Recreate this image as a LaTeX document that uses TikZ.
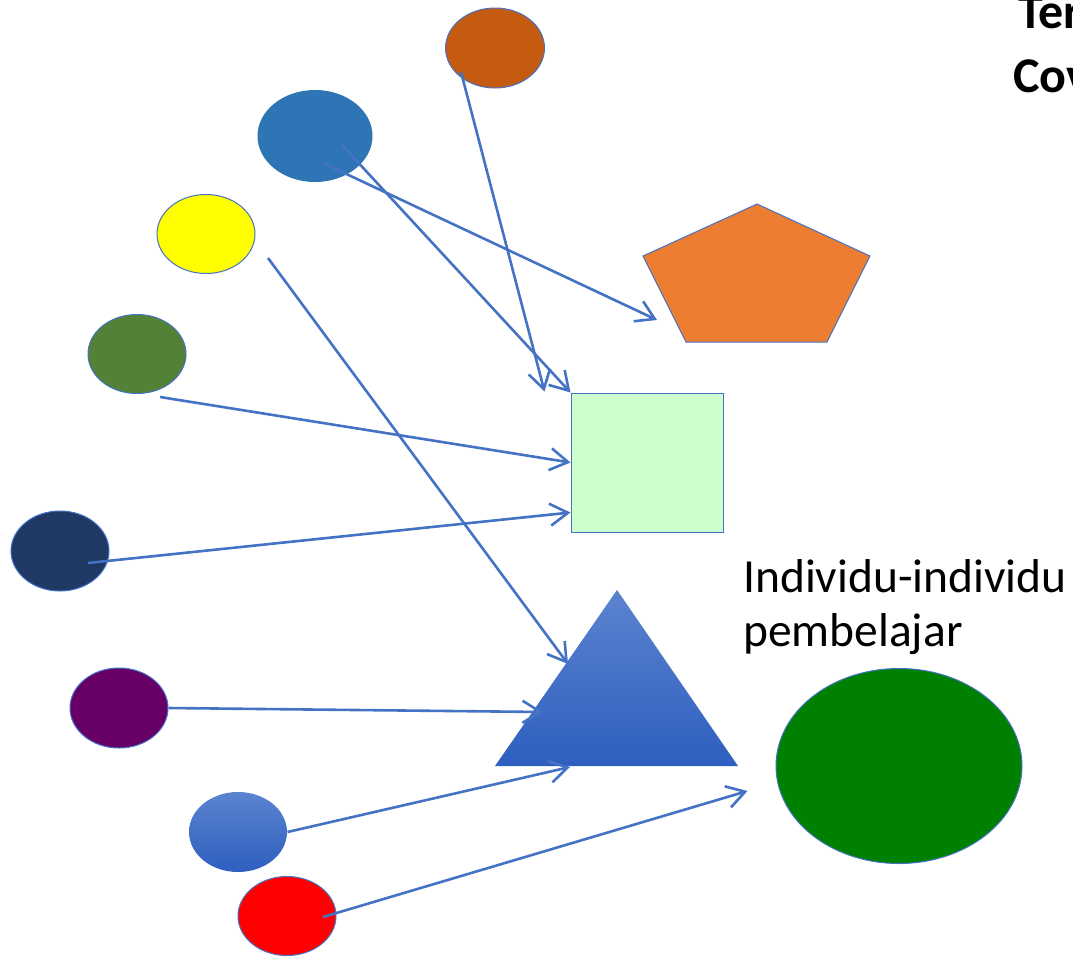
\documentclass[tikz,border=0pt]{standalone}
\usepackage{fontspec}
\setmainfont{Carlito}
\usetikzlibrary{shapes.geometric,arrows.meta,calc}
\definecolor{linec}{HTML}{4472C4}
\definecolor{cbrown}{HTML}{C55A11}
\definecolor{cblue}{HTML}{2E75B6}
\definecolor{cyellow}{HTML}{FFFF00}
\definecolor{cgreen}{HTML}{538135}
\definecolor{cnavy}{HTML}{203864}
\definecolor{cpurple}{HTML}{660066}
\definecolor{cred}{HTML}{FF0000}
\definecolor{cbig}{HTML}{008000}
\definecolor{cpent}{HTML}{ED7D31}
\definecolor{csq}{HTML}{CCFFCC}
\definecolor{gtop}{HTML}{5B83CF}
\definecolor{gbot}{HTML}{2E5FBF}
\begin{document}
\begin{tikzpicture}[x=1pt,y=-1pt,
  blob/.style={ellipse, draw=linec, line width=1pt, inner sep=0pt, minimum width=98pt, minimum height=79pt},
  arr/.style={draw=linec, line width=2.6pt, -{Straight Barb[length=18pt,width=22pt,line width=2.6pt]}},
  lbl/.style={anchor=base west, inner sep=0pt, font=\fontsize{47.5}{56}\selectfont},
  ttl/.style={anchor=base west, inner sep=0pt, font=\fontsize{50}{60}\selectfont\bfseries}]
\useasboundingbox (0,0) rectangle (1073,956);
\clip (0,0) rectangle (1073,956);
% ellipses
\node[blob, fill=cbrown, minimum width=99pt, minimum height=80pt] (e1) at (495,48) {};
\node[blob, fill=cblue, draw=none, minimum width=115pt, minimum height=92pt] (e2) at (315,136) {};
\node[blob, fill=cyellow] (e3) at (206,234) {};
\node[blob, fill=cgreen] (e4) at (137,354) {};
\node[blob, fill=cnavy, minimum height=80pt] (e5) at (60,551) {};
\node[blob, fill=cpurple, minimum height=80pt] (e6) at (119,708) {};
\node[blob, draw=none, top color=gtop, bottom color=gbot, minimum height=80pt] (e7) at (238,832) {};
\node[blob, fill=cred] (e8) at (287,916) {};
\node[blob, fill=cbig, minimum width=246pt, minimum height=195pt] (e9) at (899,766) {};
% pentagon
\coordinate (p1) at (757,204);
\coordinate (p2) at (870,256);
\coordinate (p3) at (827,342);
\coordinate (p4) at (686,342);
\coordinate (p5) at (643,256);
\coordinate (pt) at (657,320);
\filldraw[fill=cpent, draw=linec, line width=1pt] (p1) -- (p2) -- (p3) -- (p4) -- (p5) -- cycle;
% square
\node[rectangle, draw=linec, line width=1pt, fill=csq, inner sep=0pt, minimum width=152pt, minimum height=139pt] (sq) at (647,462.5) {};
% triangle
\coordinate (tA) at (617,590);
\coordinate (tL) at (495,766);
\coordinate (tR) at (738,766);
\path[top color=gtop, bottom color=gbot] (tA) -- (tR) -- (tL) -- cycle;
% labels
\node[lbl] (l1) at (743,592) {Individu-individu};
\node[lbl] (l2) at (743,646) {pembelajar};
\node[ttl] (t1) at (1018,28) {Ter};
\node[ttl] (t2) at (1013,92) {Cov};
% arrows
\draw[arr] ([shift={(-34,24)}]e1.center) -- ([shift={(-26,-1)}]sq.north west);
\draw[arr] ([shift={(27,9)}]e2.center) -- (sq.north west);
\draw[arr] ([shift={(8,27)}]e2.center) -- (pt);
\draw[arr] ([shift={(62,24)}]e3.center) -- ([shift={(-49,74)}]tA);
\draw[arr] ([shift={(23,43)}]e4.center) -- (sq.west);
\draw[arr] ([shift={(28,12)}]e5.center) -- ([shift={(0,-20)}]sq.south west);
\draw[arr] (e6.east) -- ([shift={(-74,122)}]tA);
\draw[arr] (e7.east) -- ([shift={(-47,177)}]tA);
\draw[arr] ([shift={(36,1)}]e8.center) -- ([shift={(-28,25)}]e9.west);
\end{tikzpicture}
\end{document}
